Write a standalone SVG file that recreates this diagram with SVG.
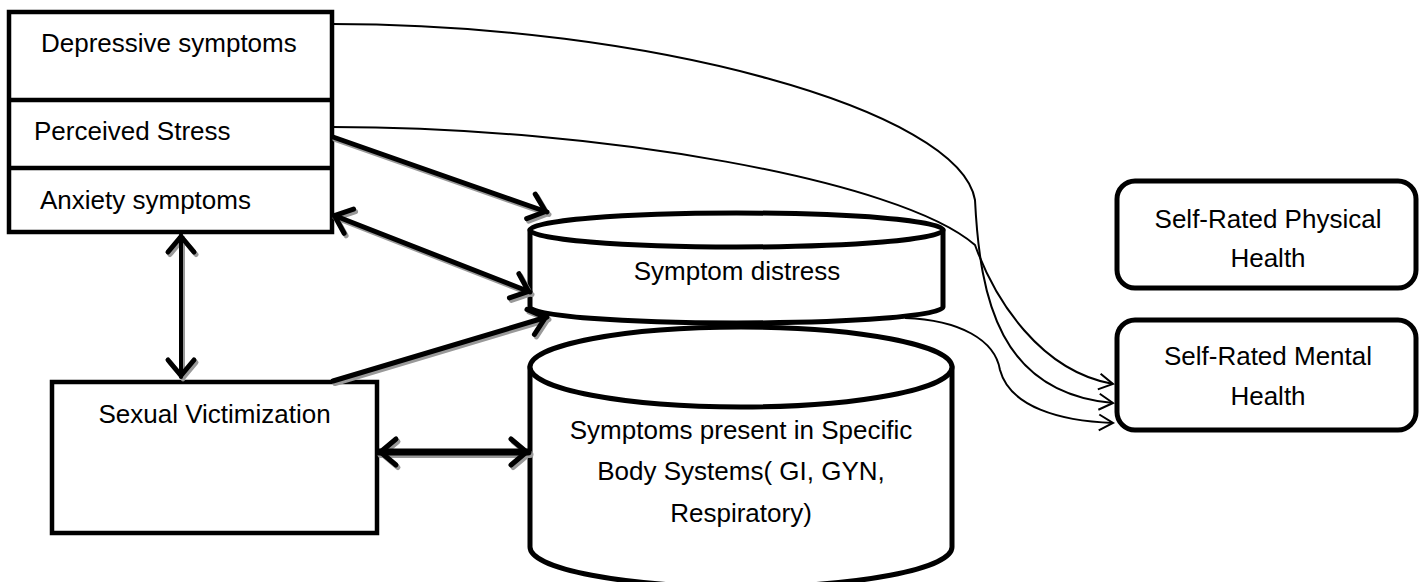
<svg xmlns="http://www.w3.org/2000/svg" width="1419" height="582" viewBox="0 0 1419 582">
<style>
  .box { fill: #fff; stroke: #000; stroke-width: 4.5; }
  .rbox { fill: #fff; stroke: #000; stroke-width: 5; }
  .cyl { fill: #fff; stroke: #000; stroke-width: 5; stroke-linejoin: round; }
  .t { font-family: "Liberation Sans", Arial, sans-serif; font-size: 26px; fill: #000; }
  .c { text-anchor: middle; }
  .thin { fill: none; stroke: #000; stroke-width: 2; }
  .thick { fill: none; stroke: #000; stroke-width: 5; stroke-linecap: round; }
  .shadow { fill: none; stroke: #999; stroke-width: 5; stroke-linecap: round; }
</style>
<defs>
  <marker id="ah" markerUnits="userSpaceOnUse" viewBox="-30 -20 36 40" refX="0" refY="0" markerWidth="36" markerHeight="40" orient="auto-start-reverse" overflow="visible">
    <path d="M-17,-13 L-1.5,0 L-17,13" fill="none" stroke="#000" stroke-width="5" stroke-linecap="round" stroke-linejoin="round"/>
  </marker>
  <marker id="ahs" markerUnits="userSpaceOnUse" viewBox="-30 -20 36 40" refX="0" refY="0" markerWidth="36" markerHeight="40" orient="auto-start-reverse" overflow="visible">
    <path d="M-17,-13 L-1.5,0 L-17,13" fill="none" stroke="#999" stroke-width="5" stroke-linecap="round" stroke-linejoin="round"/>
  </marker>
  <marker id="ta" markerUnits="userSpaceOnUse" viewBox="-20 -12 24 24" refX="0" refY="0" markerWidth="24" markerHeight="24" orient="auto" overflow="visible">
    <path d="M-14,-8 L0,0 L-14,8" fill="none" stroke="#000" stroke-width="2"/>
  </marker>
</defs>
<rect width="1419" height="582" fill="#fff"/>

<g id="node-top-stack">
  <rect class="box" x="9" y="12" width="323" height="220"/>
  <line x1="9" y1="100" x2="332" y2="100" stroke="#000" stroke-width="4.5"/>
  <line x1="9" y1="168" x2="332" y2="168" stroke="#000" stroke-width="4.5"/>
</g>
<g id="node-depressive">
  <text class="t" x="41" y="52">Depressive symptoms</text>
</g>
<g id="node-perceived">
  <text class="t" x="34" y="140">Perceived Stress</text>
</g>
<g id="node-anxiety">
  <text class="t" x="40" y="209">Anxiety symptoms</text>
</g>

<g id="node-sexual">
  <rect class="box" x="52" y="382" width="325" height="151"/>
  <text class="t c" x="214.5" y="423">Sexual Victimization</text>
</g>

<g id="node-body-systems">
  <path class="cyl" d="M530,367 L530,547 A211,40 0 0 0 952,547 L952,367 Z"/>
  <ellipse class="cyl" cx="741" cy="367" rx="211" ry="40"/>
  <text class="t c" x="741" y="439">Symptoms present in Specific</text>
  <text class="t c" x="741" y="480">Body Systems( GI, GYN,</text>
  <text class="t c" x="741" y="522">Respiratory)</text>
</g>

<g id="node-symptom-distress">
  <path class="cyl" d="M530,230 L530,307 A206.5,16 0 0 0 943,307 L943,230 Z"/>
  <ellipse class="cyl" cx="736.5" cy="230" rx="206.5" ry="17"/>
  <text class="t c" x="737" y="280">Symptom distress</text>
</g>

<g id="node-physical">
  <rect class="rbox" x="1117" y="181" width="299" height="107" rx="18"/>
  <text class="t c" x="1268" y="228">Self-Rated Physical</text>
  <text class="t c" x="1268" y="267">Health</text>
</g>

<g id="node-mental">
  <rect class="rbox" x="1117" y="320" width="299" height="110" rx="18"/>
  <text class="t c" x="1268" y="365">Self-Rated Mental</text>
  <text class="t c" x="1268" y="405">Health</text>
</g>

<g id="connectors">
  <!-- thin curved connectors to Self-Rated Mental Health -->
  <path class="thin" marker-end="url(#ta)" d="M332,24 C650,24 960,110 975,200 C980,300 1000,393 1113,403"/>
  <path class="thin" marker-end="url(#ta)" d="M332,127 C600,127 900,180 975,245 C995,300 1040,371 1113,384"/>
  <path class="thin" marker-end="url(#ta)" d="M905,318 C960,320 995,340 1000,370 C1010,407 1060,421 1113,423"/>

  <!-- shadows -->
  <g transform="translate(2,2.5)">
    <path class="shadow" marker-end="url(#ahs)" d="M333,137 L547,212"/>
    <path class="shadow" marker-start="url(#ahs)" marker-end="url(#ahs)" d="M333,215 L530,292"/>
    <path class="shadow" marker-end="url(#ahs)" d="M333,381 L547,317"/>
    <path class="shadow" style="stroke-width:7" marker-start="url(#ahs)" marker-end="url(#ahs)" d="M379,452 L528,452"/>
    <path class="shadow" style="stroke-width:4" marker-start="url(#ahs)" marker-end="url(#ahs)" d="M181,235 L181,377"/>
  </g>
  <!-- thick arrows -->
  <path class="thick" marker-end="url(#ah)" d="M333,137 L547,212"/>
  <path class="thick" marker-start="url(#ah)" marker-end="url(#ah)" d="M333,215 L530,292"/>
  <path class="thick" marker-end="url(#ah)" d="M333,381 L547,317"/>
  <path class="thick" style="stroke-width:7" marker-start="url(#ah)" marker-end="url(#ah)" d="M379,452 L528,452"/>
  <path class="thick" style="stroke-width:4" marker-start="url(#ah)" marker-end="url(#ah)" d="M181,235 L181,377"/>
</g>
</svg>
